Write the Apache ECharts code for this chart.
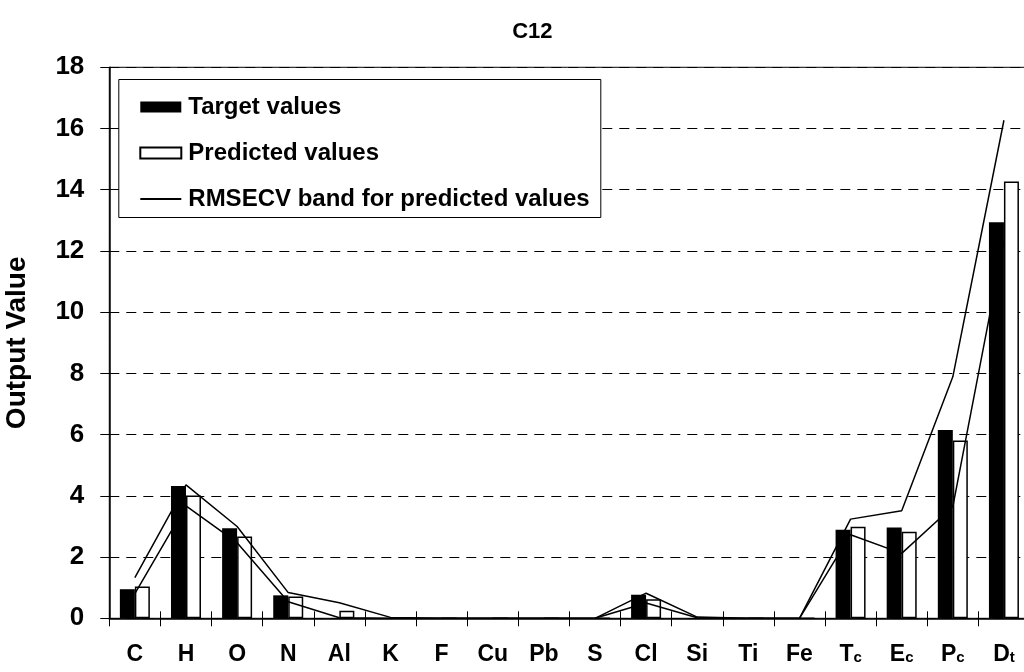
<!DOCTYPE html>
<html>
<head>
<meta charset="utf-8">
<script src="https://cdn.jsdelivr.net/npm/echarts@6/dist/echarts.min.js"></script>
<style>html,body{margin:0;padding:0;background:#fff}#chart{width:1024px;height:672px}</style>
</head>
<body>
<div id="chart"></div>
<script>
const categories = ['C','H','O','N','Al','K','F','Cu','Pb','S','Cl','Si','Ti','Fe','T_c','E_c','P_c','D_t'];
const targetValues = [0.95,4.32,2.94,0.75,0,0,0,0,0,0,0.77,0,0,0,2.89,2.97,6.15,12.94];
const predictedValues = [1.04,4.01,2.67,0.71,0.25,0,0,0,0,0,0.62,0,0,0,2.99,2.83,5.81,14.27];
const bandUpper = [1.33,4.36,3.0,0.84,0.51,0.03,0,0,0,0,0.82,0.04,0,0,3.24,3.51,7.89,16.27];
const bandLower = [0.81,3.67,2.47,0.54,0.02,0,0,0,0,0,0.5,0.02,0,0,2.73,2.12,3.65,12.32];
const yTicks = {min:0, max:18, interval:2};

const FONT = '"Liberation Sans", Arial, sans-serif';
const chart = echarts.init(document.getElementById('chart'), null, {renderer:'canvas'});
const gridTop = 67.3, gridBottomY = 618.3;
chart.setOption({
  animation:false,
  backgroundColor:'#fff',
  title:{text:'C12', left:'51.5%', textAlign:'center', top:16, textStyle:{fontFamily:FONT, fontSize:22, fontWeight:'bold', color:'#000'}},
  grid:{left:109.3, top:gridTop, right:-5.5, bottom:672-gridBottomY, show:true, borderColor:'#000', borderWidth:1, containLabel:false, outerBoundsMode:'none'},
  legend:{
    orient:'vertical', left:139.3, top:95, itemWidth:41, itemHeight:11, itemGap:22, padding:0, z:6,
    textStyle:{fontFamily:FONT, fontSize:24, lineHeight:22, fontWeight:'bold', color:'#000', padding:[0,0,0,2]},
    data:[{name:'Target values', icon:'rect'},{name:'Predicted values', icon:'rect'},{name:'RMSECV band for predicted values', itemStyle:{opacity:0}}]
  },
  graphic:{elements:[{type:'rect', left:118.3, top:79, z:5, shape:{width:482, height:138}, style:{fill:'#fff', stroke:'#000', lineWidth:1}, silent:true}]},
  xAxis:[{
    type:'category', data:categories, position:'bottom',
    axisLine:{show:true, lineStyle:{color:'#000', width:1.5}},
    axisTick:{show:true, length:8, lineStyle:{color:'#000', width:1}},
    axisLabel:{margin:25, interval:0, fontFamily:FONT, color:'#000',
      formatter:function(v){const p=v.split('_'); return p.length>1?'{m|'+p[0]+'}{s|'+p[1]+'}':'{m|'+v+'}';},
      rich:{m:{fontFamily:FONT, fontSize:23, fontWeight:'bold', lineHeight:22, color:'#000'},
            s:{fontFamily:FONT, fontSize:15, fontWeight:'bold', lineHeight:6, verticalAlign:'bottom', color:'#000'}}},
    splitLine:{show:false}
  },{
    type:'category', data:categories, position:'top', offset:-(gridBottomY-gridTop),
    axisLine:{show:false}, axisLabel:{show:false}, splitLine:{show:false},
    axisTick:{show:true, length:7, lineStyle:{color:'#000', width:1}}
  }],
  yAxis:{
    type:'value', min:yTicks.min, max:yTicks.max, interval:yTicks.interval,
    name:'Output Value', nameLocation:'middle', nameGap:78, nameRotate:90,
    nameTextStyle:{fontFamily:FONT, fontSize:28, fontWeight:'bold', color:'#000'},
    axisLine:{show:true, lineStyle:{color:'#000', width:1.5}},
    axisTick:{show:true, length:9, lineStyle:{color:'#000'}},
    axisLabel:{margin:25, fontFamily:FONT, fontSize:26, fontWeight:'bold', color:'#000'},
    splitLine:{show:true, lineStyle:{color:'#000', width:1, type:[10,7]}}
  },
  series:[
    {name:'Target values', type:'bar', data:targetValues, barWidth:15, barGap:'0%', itemStyle:{color:'#000'}},
    {name:'Predicted values', type:'bar', data:predictedValues, barWidth:15, barGap:'0%', itemStyle:{color:'#fff', borderColor:'#000', borderWidth:1.5}},
    {name:'RMSECV band for predicted values', type:'line', data:bandUpper, symbol:'none', lineStyle:{color:'#000', width:1.5}, itemStyle:{color:'#000', opacity:0}, z:3},
    {name:'RMSECV lower', type:'line', data:bandLower, symbol:'none', lineStyle:{color:'#000', width:1.5}, itemStyle:{color:'#000', opacity:0}, z:3}
  ]
});
</script>
</body>
</html>
